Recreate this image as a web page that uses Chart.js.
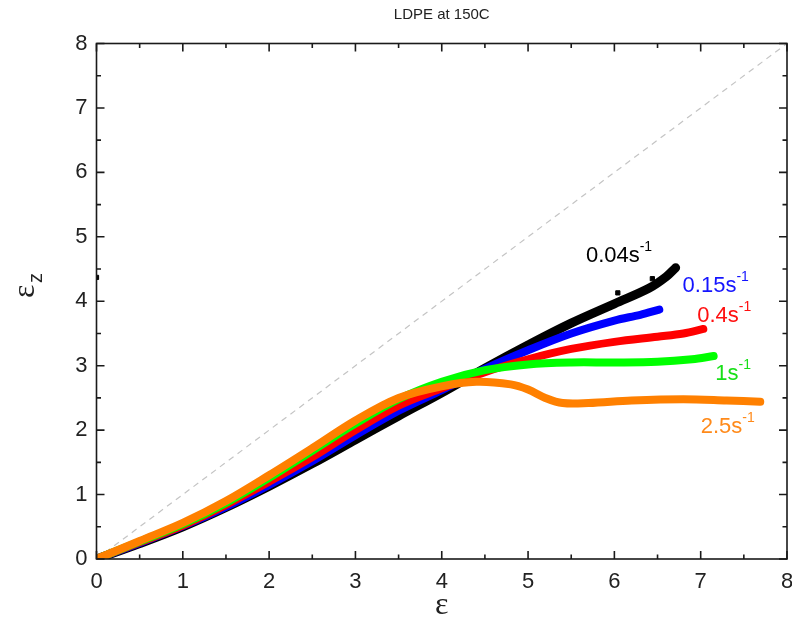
<!DOCTYPE html>
<html>
<head>
<meta charset="utf-8">
<title>LDPE at 150C</title>
<script src="https://cdn.jsdelivr.net/npm/chart.js@4.4.0/dist/chart.umd.min.js"></script>
<style>
  html, body { margin: 0; padding: 0; background: #fff; }
</style>
</head>
<body>
<canvas id="myChart" width="792" height="630"></canvas>
<script>
// ! data (strain eps vs eps_z for each rate)
const x004 = [0, 0.5, 1, 1.5, 2, 2.5, 3, 3.5, 4, 4.5, 5, 5.5, 6, 6.4, 6.6, 6.71];
const y004 = [0, 0.24, 0.5, 0.8, 1.13, 1.48, 1.85, 2.22, 2.58, 2.96, 3.32, 3.66, 3.96, 4.2, 4.38, 4.52];

const x015 = [0, 0.5, 1, 1.5, 2, 2.5, 3, 3.5, 4, 4.5, 5, 5.5, 6, 6.3, 6.52];
const y015 = [0, 0.25, 0.51, 0.81, 1.15, 1.52, 1.92, 2.3, 2.62, 2.95, 3.24, 3.5, 3.7, 3.79, 3.87];

const x04 = [0, 0.5, 1, 1.5, 2, 2.5, 3, 3.5, 4, 4.5, 5, 5.5, 6, 6.5, 6.8, 7.03];
const y04 = [0, 0.26, 0.52, 0.84, 1.2, 1.58, 2.0, 2.38, 2.65, 2.9, 3.1, 3.26, 3.37, 3.45, 3.5, 3.57];

const x1 = [0, 0.5, 1, 1.5, 2, 2.5, 3, 3.5, 4, 4.5, 5, 5.5, 6, 6.5, 6.9, 7.15];
const y1 = [0, 0.27, 0.54, 0.87, 1.26, 1.68, 2.1, 2.48, 2.75, 2.93, 3.02, 3.05, 3.05, 3.06, 3.1, 3.15];

const x25 = [0, 0.5, 1, 1.5, 2, 2.5, 3, 3.5, 4, 4.4, 4.8, 5.0, 5.2, 5.4, 5.7, 6.2, 6.8, 7.3, 7.69];
const y25 = [0, 0.28, 0.56, 0.9, 1.3, 1.72, 2.15, 2.5, 2.68, 2.75, 2.71, 2.63, 2.5, 2.42, 2.42, 2.46, 2.48, 2.46, 2.44];

// stray black points of the 0.04 run
const strayX = [0, 6.04, 6.44];
const strayY = [4.37, 4.13, 4.35];

// dashed eps_z = eps line
const diagX = [0, 8];
const diagY = [0, 8];

const tickValues = [0, 1, 2, 3, 4, 5, 6, 7, 8];

const toPoints = (xs, ys) => xs.map((v, i) => ({ x: v, y: ys[i] }));

// ! rate labels next to the curve ends (data units)
const rateNotes = [
  { text: "0.04s", x: 5.67, y: 4.61, color: "#000000" },
  { text: "0.15s", x: 6.79, y: 4.15, color: "#1414ff" },
  { text: "0.4s", x: 6.96, y: 3.68, color: "#ff1010" },
  { text: "1s", x: 7.17, y: 2.78, color: "#18e018" },
  { text: "2.5s", x: 7.0, y: 1.96, color: "#ff8a1a" },
];

const FONT = "'Liberation Sans', Arial, sans-serif";
const SERIF = "'Liberation Serif', 'DejaVu Serif', serif";

function curve(label, xs, ys, color, order, width) {
  return {
    label,
    data: toPoints(xs, ys),
    showLine: true,
    borderColor: color,
    backgroundColor: color,
    borderWidth: width,
    pointRadius: 0,
    tension: 0.35,
    borderCapStyle: "round",
    borderJoinStyle: "round",
    order,
  };
}

// ! frame with inward ticks on all four sides, titles and labels
const framePlugin = {
  id: "framePlugin",
  afterDatasetsDraw(chart) {
    const { ctx, chartArea: a, scales } = chart;
    const xs = scales.x;
    const ys = scales.y;
    ctx.save();
    ctx.strokeStyle = "#1a1a1a";
    ctx.lineWidth = 1.6;
    ctx.strokeRect(a.left, a.top, a.right - a.left, a.bottom - a.top);

    for (let v = 0; v <= 8; v += 0.5) {
      const len = v % 1 === 0 ? 8 : 4.5;
      const px = xs.getPixelForValue(v);
      const py = ys.getPixelForValue(v);
      ctx.beginPath();
      ctx.moveTo(px, a.bottom);
      ctx.lineTo(px, a.bottom - len);
      ctx.moveTo(px, a.top);
      ctx.lineTo(px, a.top + len);
      ctx.moveTo(a.left, py);
      ctx.lineTo(a.left + len, py);
      ctx.moveTo(a.right, py);
      ctx.lineTo(a.right - len, py);
      ctx.stroke();
    }

    // chart title
    ctx.fillStyle = "#222";
    ctx.font = "15px " + FONT;
    ctx.textAlign = "center";
    ctx.textBaseline = "middle";
    ctx.fillText("LDPE at 150C", (a.left + a.right) / 2, 15);

    // x title
    ctx.font = "32px " + SERIF;
    ctx.fillText("\u03b5", (a.left + a.right) / 2, 606);

    // y title with subscript z
    ctx.save();
    ctx.translate(26, 290);
    ctx.rotate(-Math.PI / 2);
    ctx.textAlign = "left";
    ctx.fillText("\u03b5", -8, 0);
    ctx.font = "20px " + FONT;
    ctx.fillText("z", 7, 10);
    ctx.restore();

    // rate labels with s^-1
    ctx.textAlign = "left";
    ctx.textBaseline = "alphabetic";
    rateNotes.forEach((n) => {
      const px = xs.getPixelForValue(n.x);
      const py = ys.getPixelForValue(n.y);
      ctx.fillStyle = n.color;
      ctx.font = "22px " + FONT;
      ctx.fillText(n.text, px, py);
      const w = ctx.measureText(n.text).width;
      ctx.font = "14px " + FONT;
      ctx.fillText("-1", px + w, py - 11);
    });
    ctx.restore();
  },
};

const config = {
  type: "scatter",
  data: {
    datasets: [
      {
        label: "diag",
        data: toPoints(diagX, diagY),
        showLine: true,
        borderColor: "#c4c4c4",
        borderWidth: 1.2,
        borderDash: [6, 5],
        pointRadius: 0,
        order: 10,
      },
      curve("0.04", x004, y004, "#000000", 5, 9),
      curve("0.15", x015, y015, "#0000ff", 4, 8),
      curve("0.4", x04, y04, "#ff0000", 3, 8),
      curve("1", x1, y1, "#00ff00", 2, 8),
      curve("2.5", x25, y25, "#ff8000", 1, 8),
      {
        label: "stray",
        data: toPoints(strayX, strayY),
        pointStyle: "rect",
        pointRadius: 3,
        backgroundColor: "#000",
        borderColor: "#000",
        order: 0,
      },
    ],
  },
  options: {
    responsive: false,
    animation: false,
    layout: { padding: { top: 43.5, right: 2, left: 0, bottom: 0 } },
    plugins: {
      legend: { display: false },
      tooltip: { enabled: false },
      title: { display: false },
    },
    scales: {
      x: {
        type: "linear",
        min: 0,
        max: 8,
        afterBuildTicks(s) {
          s.ticks = tickValues.map((v) => ({ value: v }));
        },
        afterFit(s) {
          s.height = 71;
          s.paddingLeft = 0;
          s.paddingRight = 0;
        },
        grid: { display: false, drawTicks: false },
        border: { display: false },
        ticks: { padding: 10, color: "#222", font: { family: FONT, size: 22 } },
      },
      y: {
        type: "linear",
        min: 0,
        max: 8,
        afterBuildTicks(s) {
          s.ticks = tickValues.map((v) => ({ value: v }));
        },
        afterFit(s) {
          s.width = 96.5;
          s.paddingTop = 0;
          s.paddingBottom = 0;
        },
        grid: { display: false, drawTicks: false },
        border: { display: false },
        ticks: { padding: 9, color: "#222", font: { family: FONT, size: 22 } },
      },
    },
  },
  plugins: [framePlugin],
};

const myChart = new Chart(document.getElementById("myChart"), config);
</script>
</body>
</html>
